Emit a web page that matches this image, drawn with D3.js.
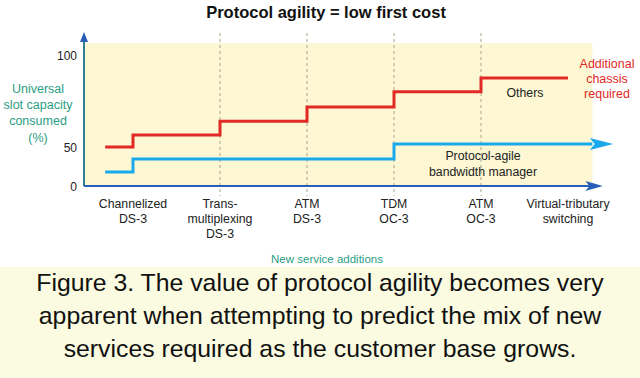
<!DOCTYPE html>
<html><head><meta charset="utf-8">
<script src="https://cdn.jsdelivr.net/npm/d3@7"></script>
<style>
html,body{margin:0;padding:0;background:#fff;}
svg{display:block;}
text{font-family:"Liberation Sans",Arial,sans-serif;}
</style></head>
<body>
<svg id="c" width="640" height="378"></svg>
<script>
// ---- data ----
const title = "Protocol agility = low first cost";
const categories = ["Channelized\nDS-3", "Trans-\nmultiplexing\nDS-3", "ATM\nDS-3", "TDM\nOC-3", "ATM\nOC-3", "Virtual-tributary\nswitching"];
const yTicks = [0, 50, 100];
const othersStart = 50;
const othersValues = [56.5, 64, 71.7, 80, 87.5, 87.5];
const agileStart = 18;
const agileValues = [34.6, 34.6, 34.6, 51.6, 51.6, 51.6];
const yAxisTitle = ["Universal", "slot capacity", "consumed", "(%)"];
const xAxisTitle = "New service additions";
const othersLabel = "Others";
const agileLabel = ["Protocol-agile", "bandwidth manager"];
const chassisLabel = ["Additional", "chassis", "required"];
const caption = ["Figure 3. The value of protocol agility becomes very",
  "apparent when attempting to predict the mix of new",
  "services required as the customer base grows."];

// ---- setup ----
const svg = d3.select("#c");
const x = d3.scaleLinear().domain([0, categories.length - 1]).range([133, 568]);
const y = d3.scaleLinear().domain([0, 50, 100]).range([186, 147, 55]);
const RED = "#e12a26", BLUE = "#1aa9ea", AXIS = "#2a5fb8", TEAL = "#2a9d84";

// caption background
svg.append("rect").attr("x", 0).attr("y", 267).attr("width", 640).attr("height", 111).attr("fill", "#fafbe0");
// plot background
svg.append("rect").attr("x", x(-0.563)).attr("y", 43).attr("width", x(5.28) - x(-0.563)).attr("height", y(0) - 43).attr("fill", "#fdf7d3");

// dashed verticals
svg.selectAll("line.grid").data(d3.range(1, categories.length - 1)).join("line")
  .attr("x1", d => x(d)).attr("x2", d => x(d)).attr("y1", 33).attr("y2", 196)
  .attr("stroke", "#b7b39c").attr("stroke-width", 1.2).attr("stroke-dasharray", "3,3");

// title
svg.append("text").attr("x", 326).attr("y", 18).attr("text-anchor", "middle")
  .attr("font-weight", "bold").attr("font-size", 16.5).attr("fill", "#111").text(title);

// lines
const line = d3.line().x(d => x(d[0])).y(d => y(d[1])).curve(d3.curveStepAfter);
const redPts = [[-0.32, othersStart]].concat(othersValues.map((v, i) => [i, v]));
const bluePts = [[-0.32, agileStart]].concat(agileValues.map((v, i) => [i, v]));
bluePts[bluePts.length - 1] = [5.28, agileValues[agileValues.length - 1]];

svg.append("path").attr("d", line(bluePts)).attr("fill", "none").attr("stroke", BLUE).attr("stroke-width", 3);
svg.append("path").attr("d", line(redPts)).attr("fill", "none").attr("stroke", RED).attr("stroke-width", 3);

// blue arrowhead
const by = y(agileValues[agileValues.length - 1]);
const bx0 = x(5.25), bx1 = x(5.52);
svg.append("path").attr("d", `M${bx0},${by - 6} L${bx1},${by} L${bx0},${by + 6} L${bx0 + 5},${by} Z`).attr("fill", BLUE);

// axes
svg.append("line").attr("x1", x(-0.563)).attr("x2", x(-0.563)).attr("y1", y(0)).attr("y2", 38)
  .attr("stroke", "#2f7f95").attr("stroke-width", 2);
const ax = x(-0.563);
svg.append("path").attr("d", `M${ax - 4},${42} L${ax},${32} L${ax + 4},${42} Z`).attr("fill", AXIS);
svg.append("line").attr("x1", x(-0.563)).attr("x2", x(5.28)).attr("y1", y(0)).attr("y2", y(0))
  .attr("stroke", AXIS).attr("stroke-width", 2);
const axY = y(0), a0 = x(5.2), a1 = x(5.4);
svg.append("path").attr("d", `M${a0},${axY - 5} L${a1},${axY} L${a0},${axY + 5} L${a0 + 4},${axY} Z`).attr("fill", AXIS);

// y ticks
svg.selectAll("text.yt").data(yTicks).join("text")
  .attr("x", 77).attr("y", d => y(d) + 4.5).attr("text-anchor", "end")
  .attr("font-size", 12).attr("fill", "#222").text(d => d);

// y title
svg.append("text").attr("text-anchor", "middle").attr("font-size", 12.5).attr("fill", TEAL)
  .selectAll("tspan").data(yAxisTitle).join("tspan")
  .attr("x", 38).attr("y", (d, i) => 92.5 + i * 16.4).text(d => d);

// category labels
const cat = svg.selectAll("g.cat").data(categories).join("g")
  .attr("transform", (d, i) => `translate(${x(i)},0)`);
cat.append("text").attr("text-anchor", "middle").attr("font-size", 12.3).attr("fill", "#222")
  .selectAll("tspan").data(d => d.split("\n")).join("tspan")
  .attr("x", 0).attr("y", (d, i) => 207.5 + i * 15).text(d => d);

// x title
svg.append("text").attr("x", 327).attr("y", 263).attr("text-anchor", "middle")
  .attr("font-size", 11.5).attr("fill", TEAL).text(xAxisTitle);

// annotations
svg.append("text").attr("x", 525).attr("y", 96.5).attr("text-anchor", "middle")
  .attr("font-size", 12.3).attr("fill", "#222").text(othersLabel);
svg.append("text").attr("text-anchor", "middle").attr("font-size", 12.3).attr("fill", "#222")
  .selectAll("tspan").data(agileLabel).join("tspan")
  .attr("x", 483).attr("y", (d, i) => 159.5 + i * 16).text(d => d);
svg.append("text").attr("text-anchor", "middle").attr("font-size", 12.5).attr("fill", RED)
  .selectAll("tspan").data(chassisLabel).join("tspan")
  .attr("x", 607).attr("y", (d, i) => 67.5 + i * 15).text(d => d);

// caption
svg.append("text").attr("text-anchor", "middle").attr("font-size", 24.8).attr("fill", "#111")
  .selectAll("tspan").data(caption).join("tspan")
  .attr("x", 320).attr("y", (d, i) => 290.5 + i * 33).text(d => d);
</script>
</body></html>
